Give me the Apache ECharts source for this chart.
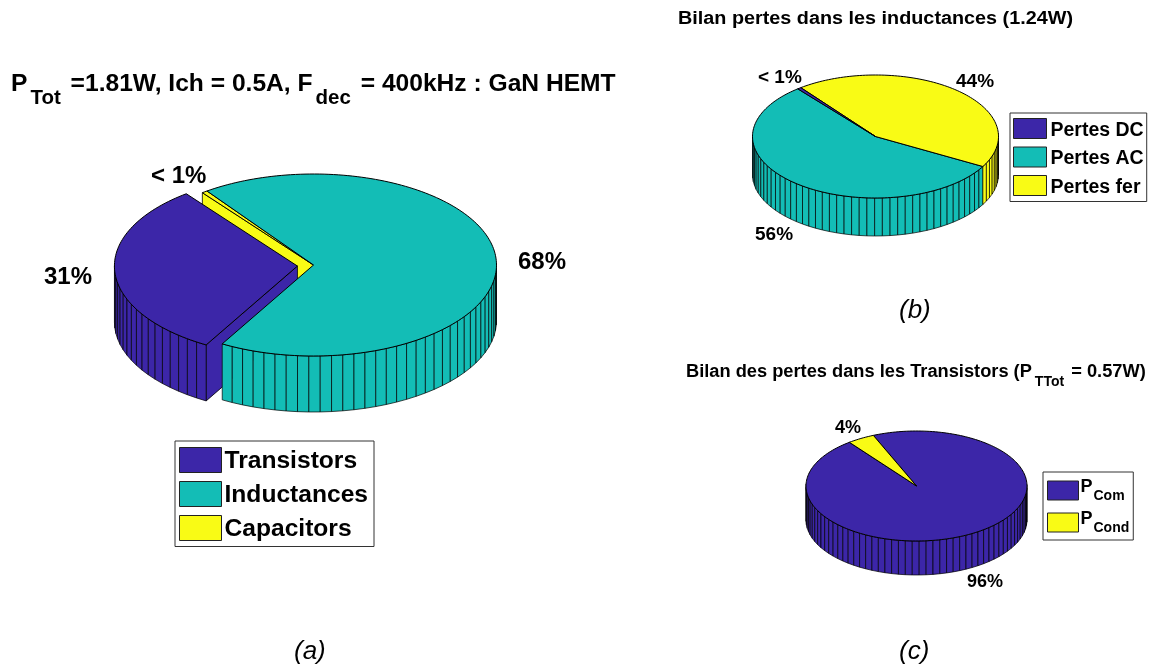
<!DOCTYPE html>
<html><head><meta charset="utf-8">
<style>html,body{margin:0;padding:0;background:#fff}#c{width:1153px;height:668px}</style>
<script src="https://cdn.jsdelivr.net/npm/echarts@6/dist/echarts.min.js"></script>
</head><body><div id="c"></div>
<script>
// ---- data ----
var lossCategories = ['Transistors', 'Inductances', 'Capacitors'];
var lossValues = [31.3, 68.2, 0.5];
var lossLabels = ['31%', '68%', '< 1%'];
var inductorCategories = ['Pertes DC', 'Pertes AC', 'Pertes fer'];
var inductorValues = [0.5, 56, 43.5];
var inductorLabels = ['< 1%', '56%', '44%'];
var transistorCategories = ['PCom', 'PCond'];
var transistorValues = [96, 4];
var transistorLabels = ['96%', '4%'];

// ---- style / layout ----
var PURPLE = '#3c26a8', TEAL = '#13bdb6', YELLOW = '#f9fb15';
var FONT = '"Liberation Sans", Arial, sans-serif';
var START = 127.4;
var EDGE = '#000';

var pies = [
  { id: 'a', cats: lossCategories, vals: lossValues, colors: [PURPLE, TEAL, YELLOW],
    cx: 313.5, cy: 265, rx: 183, ry: 91, h: 56, explode: [0.088, 0, 0], order: [2, 0, 1] },
  { id: 'b', cats: inductorCategories, vals: inductorValues, colors: [PURPLE, TEAL, YELLOW],
    cx: 875.5, cy: 136.5, rx: 123, ry: 61.5, h: 38, explode: [0, 0, 0], order: [1, 2, 0] },
  { id: 'c', cats: transistorCategories, vals: transistorValues, colors: [PURPLE, YELLOW],
    cx: 916.5, cy: 486, rx: 110.5, ry: 55, h: 34, explode: [0, 0], order: [0, 1] }
];

function rad(d) { return d * Math.PI / 180; }

function sliceShapes(p, i) {
  var total = p.vals.reduce(function (s, v) { return s + v; }, 0);
  var a0 = START;
  for (var k = 0; k < i; k++) a0 += 360 * p.vals[k] / total;
  var sweep = 360 * p.vals[i] / total;
  var a1 = a0 + sweep;
  var mid = rad(a0 + sweep / 2);
  var e = p.explode[i];
  var ox = p.cx + e * p.rx * Math.cos(mid), oy = p.cy - e * p.ry * Math.sin(mid) * 2;
  function pt(a, drop) {
    return [ox + p.rx * Math.cos(rad(a)), oy - p.ry * Math.sin(rad(a)) + (drop || 0)];
  }
  var n = Math.max(1, Math.ceil(100 * p.vals[i] / total));
  var step = sweep / n;
  var color = p.colors[i];
  var kids = [];
  function poly(points, lw) {
    kids.push({ type: 'polygon', shape: { points: points },
      style: { fill: color, stroke: EDGE, lineWidth: lw === undefined ? 0.8 : lw, lineJoin: 'round' } });
  }
  var N = p.vals.length;
  var prev = (i + N - 1) % N, next = (i + 1) % N;
  var apex = [ox, oy], apexB = [ox, oy + p.h];
  // radial walls: shown only where an exploded slice exposes them
  if (Math.sin(rad(a0 - 90)) < 0 && (e > 0 || p.explode[prev] > 0)) {
    poly([apex, pt(a0), pt(a0, p.h), apexB]);
  }
  if (Math.sin(rad(a1 + 90)) < 0 && (e > 0 || p.explode[next] > 0)) {
    poly([apex, pt(a1), pt(a1, p.h), apexB]);
  }
  // rim facets, one per percent as in the source plot
  for (var f = 0; f < n; f++) {
    var b0 = a0 + f * step, b1 = b0 + step;
    if (Math.sin(rad((b0 + b1) / 2)) < 0.02) {
      poly([pt(b0), pt(b1), pt(b1, p.h), pt(b0, p.h)], 0.7);
    }
  }
  // top face
  var top = [apex];
  var m = Math.max(2, Math.ceil(sweep / 1.5));
  for (var t = 0; t <= m; t++) top.push(pt(a0 + sweep * t / m));
  poly(top, 1);
  return kids;
}

var series = [];
pies.forEach(function (p) {
  p.order.forEach(function (i, rank) {
    series.push({
      type: 'custom', name: p.cats[i], coordinateSystem: 'none',
      silent: true, animation: false, clip: false, z: 2 + rank,
      legendIcon: 'rect',
      itemStyle: { color: p.colors[i] },
      data: [[p.vals[i]]],
      renderItem: function () {
        return { type: 'group', children: sliceShapes(p, i) };
      }
    });
  });
});

function legend(cats, left, top, iw, ih, gap, size, pad, leftPad, drop) {
  return {
    data: cats, left: left, top: top, orient: 'vertical',
    padding: pad, itemWidth: iw, itemHeight: ih, itemGap: gap,
    backgroundColor: '#fff', borderColor: '#333', borderWidth: 1, borderRadius: 0,
    selectedMode: false, icon: 'rect',
    itemStyle: { borderColor: '#222', borderWidth: 1 },
    formatter: function (n) { return '{t|' + n + '}'; },
    textStyle: { fontFamily: FONT, fontWeight: 'bold', fontSize: size, color: '#000', padding: [0, 0, 0, leftPad],
      rich: { t: { fontFamily: FONT, fontWeight: 'bold', fontSize: size, color: '#000', padding: [drop, 0, 0, 0] } } }
  };
}

function txt(x, y, text, size, extra, elExtra) {
  return Object.assign({
    type: 'text', x: x, y: y, silent: true,
    style: Object.assign({ text: text, fontFamily: FONT, fontWeight: 'bold', fontSize: size,
      fill: '#000', align: 'left', verticalAlign: 'middle' }, (extra || {}))
  }, elExtra || {});
}

var captionStyle = { fontWeight: 'normal', fontStyle: 'italic' };
var legendC = legend(transistorCategories, 1043, 472, 31, 19, 7, 18, [6, 4, 5, 4], -3, 0);
legendC.formatter = function (n) { return '{p|P}{s|' + n.slice(1) + '}'; };
legendC.textStyle.rich = {
  p: { fontFamily: FONT, fontWeight: 'bold', fontSize: 18, color: '#000', padding: [0, 1, 7, 0] },
  s: { fontFamily: FONT, fontWeight: 'bold', fontSize: 14, color: '#000', padding: [11, 0, 0, 0] }
};
var option = {
  backgroundColor: '#fff',
  animation: false,
  legend: [
    legend(lossCategories, 175, 441, 42, 25, 7.5, 24.6, [6, 6, 5, 4], -2, 2),
    legend(inductorCategories, 1010, 113, 33, 20, 6, 19.5, [5, 3, 4, 3], -1, 4),
    legendC
  ],
  graphic: [
    txt(11, 91, '{p|P}{t|Tot}{p| =1.81W, Ich = 0.5A, F}{t|dec}{p| = 400kHz : GaN HEMT}', 24.6, {
      rich: {
        p: { fontFamily: FONT, fontWeight: 'bold', fontSize: 24.6, fill: '#000', padding: [0, 0, 14, 0] },
        t: { fontFamily: FONT, fontWeight: 'bold', fontSize: 20.5, fill: '#000', padding: [14, 3, 0, 3] }
      } }),
    txt(678, 19, 'Bilan pertes dans les inductances (1.24W)', 18, {}, { scaleX: 1.1 }),
    txt(686, 377, '{p|Bilan des pertes dans les Transistors (P}{t|TTot}{p| = 0.57W)}', 18.25, {
      rich: {
        p: { fontFamily: FONT, fontWeight: 'bold', fontSize: 18.25, fill: '#000', padding: [0, 0, 10, 0] },
        t: { fontFamily: FONT, fontWeight: 'bold', fontSize: 14, fill: '#000', padding: [10, 2, 0, 3] }
      } }),
    txt(44, 277, lossLabels[0], 24),
    txt(518, 262, lossLabels[1], 24),
    txt(151, 176, lossLabels[2], 24),
    txt(758, 78, inductorLabels[0], 19),
    txt(755, 235, inductorLabels[1], 19),
    txt(956, 82, inductorLabels[2], 19),
    txt(967, 582, transistorLabels[0], 18),
    txt(835, 428, transistorLabels[1], 18),
    txt(294, 652, '(a)', 26, captionStyle),
    txt(899, 311, '(b)', 26, captionStyle),
    txt(899, 652, '(c)', 26, captionStyle)
  ],
  series: series
};
var chart = echarts.init(document.getElementById('c'), null, { renderer: 'canvas' });
chart.setOption(option);
</script></body></html>
